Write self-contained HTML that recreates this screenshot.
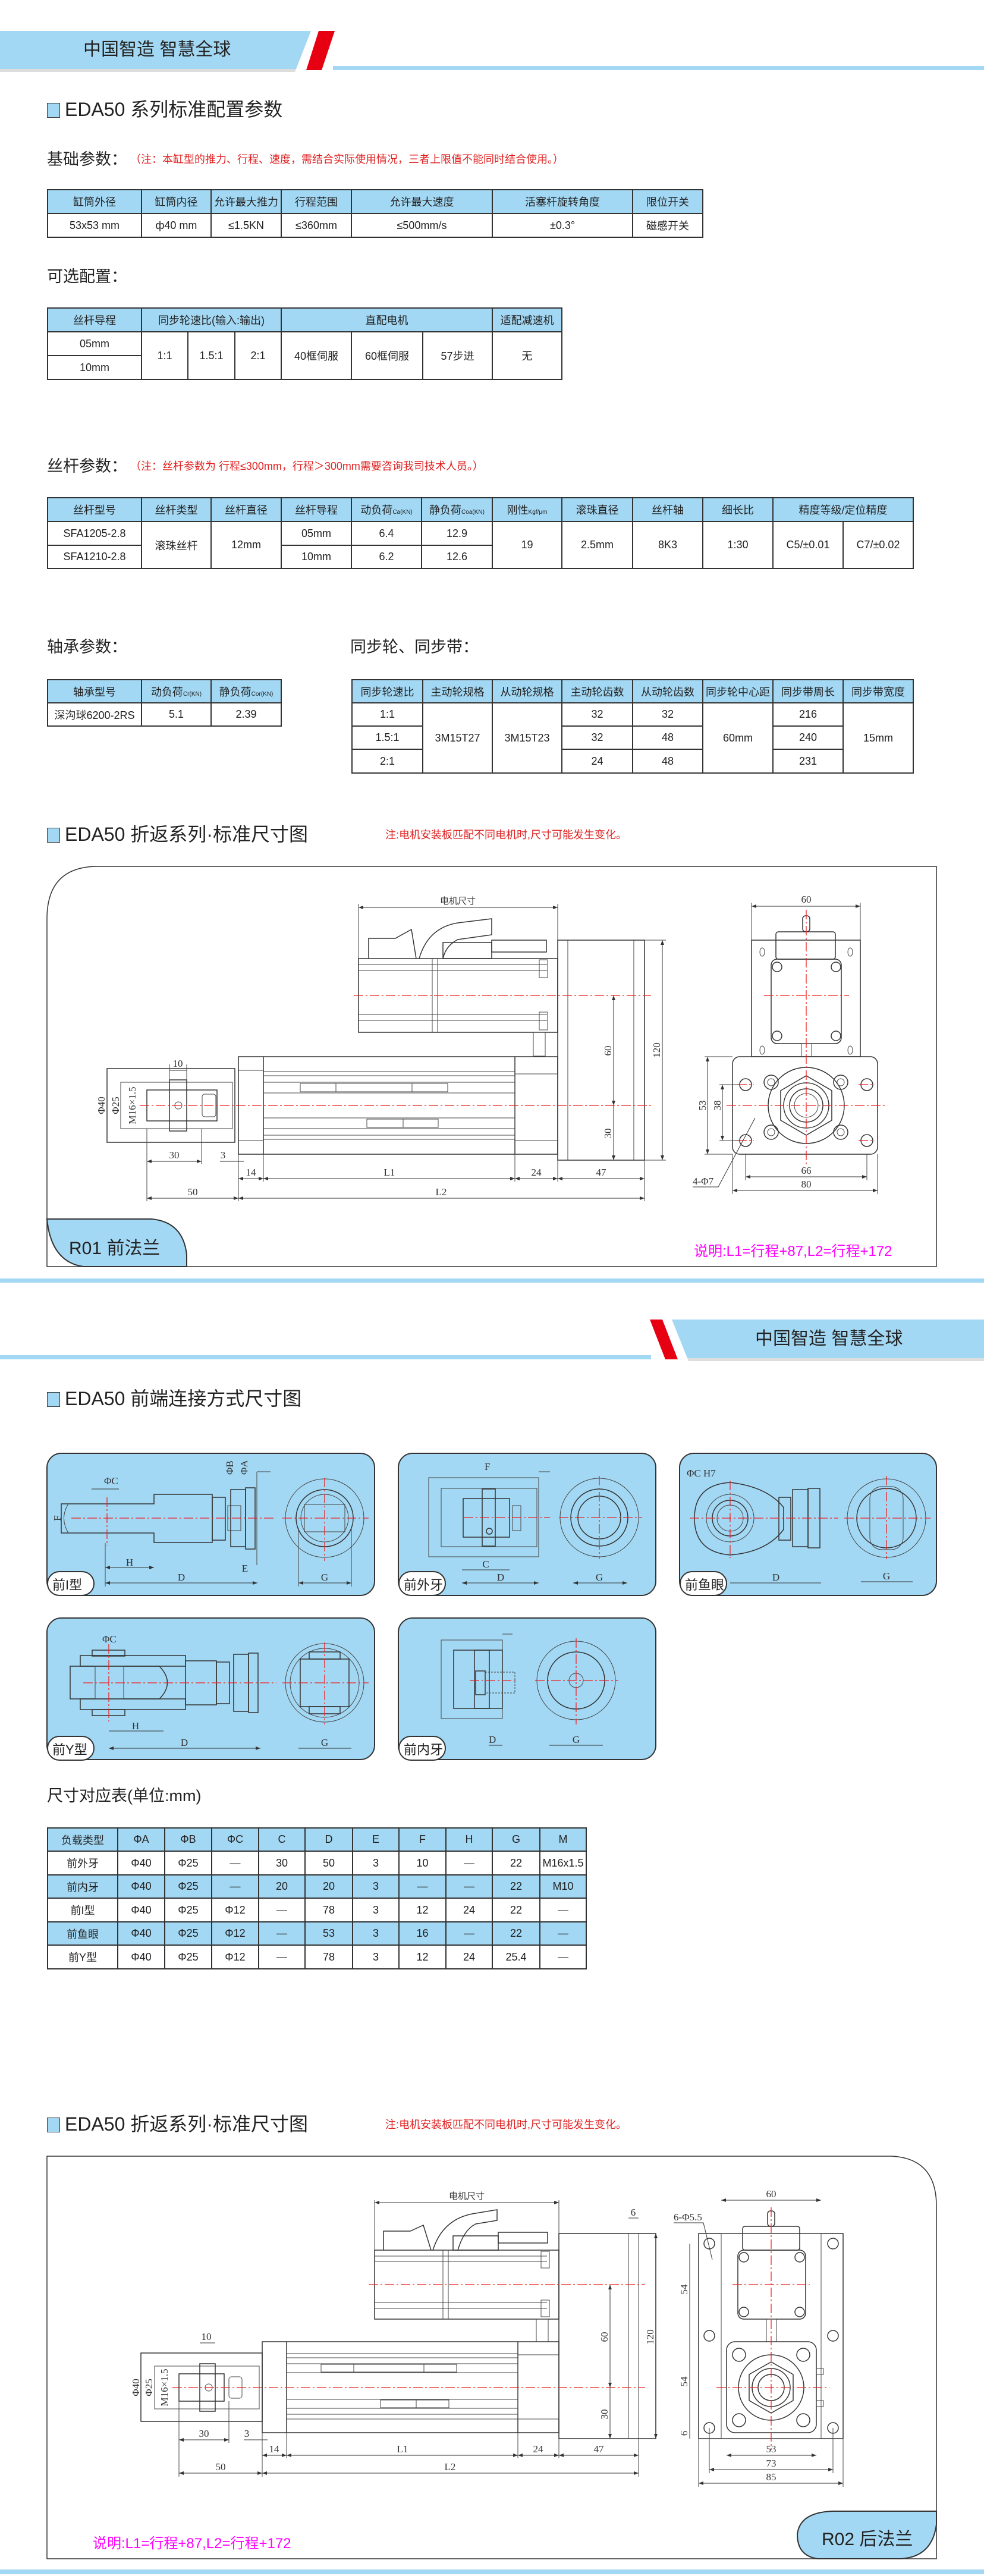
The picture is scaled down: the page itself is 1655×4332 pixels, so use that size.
<!DOCTYPE html>
<html><head><meta charset="utf-8">
<style>
*{margin:0;padding:0;box-sizing:border-box}
body{width:1655px;height:4332px;position:relative;background:#fff;font-family:"Liberation Sans","Noto Sans CJK SC",sans-serif;color:#222;overflow:hidden}
.abs{position:absolute}
.sec{position:absolute;font-size:32px;line-height:36px;white-space:nowrap;color:#222}
.sec i{display:inline-block;width:22px;height:25px;background:#a3d8f4;border:1.5px solid #333;vertical-align:-3px;margin-right:8px}
.h2{position:absolute;font-size:27px;line-height:32px;white-space:nowrap;color:#222}
.note{color:#e02020;font-size:18px;margin-left:14px;vertical-align:3px}
table{position:absolute;border-collapse:collapse;table-layout:fixed}
td{border:2px solid #333;text-align:center;vertical-align:middle;font-size:18px;white-space:nowrap;overflow:hidden;padding:0;color:#222}
tr.hd td{background:#a3d8f4}
td sub{font-size:10px;vertical-align:baseline}
.tab{position:absolute;font-size:22px;white-space:nowrap}
.pink{position:absolute;color:#f0f;font-size:24px;white-space:nowrap}
</style></head><body>

<svg class="abs" style="left:0;top:0" width="1655" height="4332" viewBox="0 0 1655 4332">
<defs>
<marker id="a" markerWidth="8" markerHeight="6" refX="8" refY="3" orient="auto-start-reverse" markerUnits="userSpaceOnUse"><path d="M0,0 L8,3 L0,6 Z" fill="#333"/></marker>
<style>
.o{fill:none;stroke:#333;stroke-width:1.5}
.t{fill:none;stroke:#444;stroke-width:1}
.c{fill:none;stroke:#e22;stroke-width:1.3;stroke-dasharray:16 4 3 4}
.d{fill:none;stroke:#333;stroke-width:1}
.tx{font-family:"Liberation Serif",serif;font-size:17px;fill:#333}
.tc{font-family:"Liberation Sans","Noto Sans CJK SC",sans-serif;font-size:15px;fill:#333}
</style>
</defs>

<!-- header 1 -->
<polygon points="0,52 523,52 498,116 0,116" fill="#a3d8f4"/>
<polygon points="0,116 498,116 496,121 0,121" fill="#ddd"/>
<polygon points="536,52 563,52 541,118 515,118" fill="#e60012"/>
<rect x="560" y="111" width="1095" height="7" fill="#a3d8f4"/>
<!-- separator 1 -->
<rect x="0" y="2150" width="1655" height="7" fill="#a3d8f4"/>
<!-- header 2 -->
<polygon points="1130,2219 1655,2219 1655,2284 1156,2284" fill="#a3d8f4"/>
<polygon points="1156,2284 1655,2284 1655,2289 1158,2289" fill="#ddd"/>
<polygon points="1093,2219 1114,2219 1140,2286 1119,2286" fill="#e60012"/>
<rect x="0" y="2279" width="1095" height="7" fill="#a3d8f4"/>
<!-- separator 2 -->
<rect x="0" y="4321" width="1655" height="8" fill="#a3d8f4"/>

<!-- ===== R01 box ===== -->
<path d="M79,2130 L79,1545 Q79,1457 165,1457 L1575,1457 L1575,2130 Z" class="o" stroke-width="2"/>
<path d="M79,2050 L255,2050 Q308,2055 314,2110 L314,2130 L140,2130 Q86,2122 79,2050 Z" fill="#a3d8f4" stroke="#333" stroke-width="2"/>

<!-- motor -->
<line x1="603" y1="1526" x2="938" y2="1526" class="d" marker-start="url(#a)" marker-end="url(#a)"/>
<line x1="603" y1="1520" x2="603" y2="1612" class="t"/><line x1="938" y1="1520" x2="938" y2="1612" class="t"/>
<text x="770" y="1520" class="tc" text-anchor="middle">电机尺寸</text>
<path d="M620,1612 L620,1578 L665,1578 L692,1563 L700,1612" class="o"/>
<path d="M705,1612 Q720,1560 770,1552 L827,1545 L827,1572 L770,1580 Q750,1590 745,1612" class="o"/>
<rect x="745" y="1585" width="82" height="27" class="o"/>
<rect x="827" y="1581" width="92" height="20" class="o"/>
<rect x="603" y="1612" width="335" height="124" class="o"/>
<line x1="603" y1="1622" x2="920" y2="1622" class="t"/><line x1="603" y1="1632" x2="920" y2="1632" class="t"/>
<line x1="603" y1="1706" x2="920" y2="1706" class="t"/><line x1="603" y1="1716" x2="920" y2="1716" class="t"/>
<line x1="727" y1="1612" x2="727" y2="1736" class="t"/><line x1="736" y1="1612" x2="736" y2="1736" class="t"/>
<rect x="907" y="1614" width="14" height="30" class="t"/><rect x="907" y="1702" width="14" height="30" class="t"/>
<rect x="897" y="1736" width="20" height="40" class="t"/>
<!-- plate -->
<rect x="938" y="1581" width="146" height="370" class="o"/>
<line x1="955" y1="1581" x2="955" y2="1951" class="t"/><line x1="1066" y1="1581" x2="1066" y2="1951" class="t"/>
<!-- body -->
<rect x="401" y="1777" width="537" height="164" class="o"/>
<line x1="443" y1="1777" x2="443" y2="1941" class="o"/>
<line x1="866" y1="1777" x2="866" y2="1941" class="o"/>
<line x1="401" y1="1800" x2="443" y2="1800" class="t"/><line x1="401" y1="1918" x2="443" y2="1918" class="t"/>
<line x1="443" y1="1802" x2="866" y2="1802" class="t"/><line x1="443" y1="1809" x2="866" y2="1809" class="t"/>
<line x1="443" y1="1820" x2="866" y2="1820" class="t"/><line x1="443" y1="1838" x2="866" y2="1838" class="t"/>
<line x1="443" y1="1880" x2="866" y2="1880" class="t"/><line x1="443" y1="1898" x2="866" y2="1898" class="t"/>
<line x1="443" y1="1909" x2="866" y2="1909" class="t"/><line x1="443" y1="1916" x2="866" y2="1916" class="t"/>
<rect x="505" y="1822" width="248" height="14" class="t"/><rect x="505" y="1822" width="60" height="14" class="t"/><rect x="693" y="1822" width="60" height="14" class="t"/>
<rect x="617" y="1882" width="120" height="14" class="t"/><rect x="678" y="1882" width="59" height="14" class="t"/>
<rect x="866" y="1806" width="72" height="112" class="t"/>
<!-- front -->
<rect x="180" y="1797" width="215" height="124" class="o"/>
<rect x="203" y="1820" width="188" height="78" class="t"/>
<rect x="247" y="1833" width="118" height="52" class="o"/>
<rect x="285" y="1816" width="29" height="86" class="o"/>
<rect x="340" y="1840" width="23" height="38" class="t" rx="4"/>
<circle cx="300" cy="1859" r="6" class="t"/>
<line x1="235" y1="1859" x2="1095" y2="1859" class="c"/>
<line x1="595" y1="1674" x2="1095" y2="1674" class="c"/>
<!-- dims R01 -->
<line x1="285" y1="1800" x2="314" y2="1800" class="d"/><line x1="285" y1="1790" x2="285" y2="1816" class="t"/><line x1="314" y1="1790" x2="314" y2="1816" class="t"/>
<text x="299" y="1794" class="tx" text-anchor="middle">10</text>
<line x1="1032" y1="1674" x2="1032" y2="1859" class="d" marker-start="url(#a)" marker-end="url(#a)"/>
<line x1="1032" y1="1859" x2="1032" y2="1951" class="d" marker-end="url(#a)"/>
<line x1="1114" y1="1581" x2="1114" y2="1951" class="d" marker-start="url(#a)" marker-end="url(#a)"/>
<line x1="1084" y1="1581" x2="1120" y2="1581" class="t"/><line x1="1084" y1="1951" x2="1120" y2="1951" class="t"/>
<text transform="translate(1028,1767) rotate(-90)" class="tx" text-anchor="middle">60</text>
<text transform="translate(1028,1906) rotate(-90)" class="tx" text-anchor="middle">30</text>
<text transform="translate(1110,1766) rotate(-90)" class="tx" text-anchor="middle">120</text>
<text transform="translate(176,1859) rotate(-90)" class="tx" text-anchor="middle">Φ40</text>
<text transform="translate(200,1859) rotate(-90)" class="tx" text-anchor="middle">Φ25</text>
<text transform="translate(228,1859) rotate(-90)" class="tx" text-anchor="middle">M16×1.5</text>
<line x1="247" y1="1898" x2="247" y2="2020" class="t"/><line x1="339" y1="1898" x2="339" y2="1958" class="t"/>
<line x1="247" y1="1953" x2="339" y2="1953" class="d" marker-start="url(#a)" marker-end="url(#a)"/><text x="293" y="1948" class="tx" text-anchor="middle">30</text>
<line x1="370" y1="1953" x2="410" y2="1953" class="d"/><text x="375" y="1948" class="tx" text-anchor="middle">3</text>
<line x1="401" y1="1941" x2="401" y2="2020" class="t"/><line x1="443" y1="1941" x2="443" y2="1987" class="t"/>
<line x1="866" y1="1941" x2="866" y2="1987" class="t"/><line x1="938" y1="1951" x2="938" y2="1987" class="t"/><line x1="1084" y1="1951" x2="1084" y2="2020" class="t"/>
<line x1="401" y1="1982" x2="443" y2="1982" class="d" marker-start="url(#a)" marker-end="url(#a)"/><text x="422" y="1977" class="tx" text-anchor="middle">14</text>
<line x1="443" y1="1982" x2="866" y2="1982" class="d" marker-start="url(#a)" marker-end="url(#a)"/><text x="655" y="1977" class="tx" text-anchor="middle">L1</text>
<line x1="866" y1="1982" x2="938" y2="1982" class="d" marker-start="url(#a)" marker-end="url(#a)"/><text x="902" y="1977" class="tx" text-anchor="middle">24</text>
<line x1="938" y1="1982" x2="1084" y2="1982" class="d" marker-start="url(#a)" marker-end="url(#a)"/><text x="1011" y="1977" class="tx" text-anchor="middle">47</text>
<line x1="247" y1="2015" x2="401" y2="2015" class="d" marker-start="url(#a)" marker-end="url(#a)"/><text x="324" y="2010" class="tx" text-anchor="middle">50</text>
<line x1="401" y1="2015" x2="1084" y2="2015" class="d" marker-start="url(#a)" marker-end="url(#a)"/><text x="742" y="2010" class="tx" text-anchor="middle">L2</text>
<!-- right view R01 -->
<rect x="1264" y="1581" width="183" height="196" class="o"/>
<rect x="1297" y="1613" width="118" height="142" rx="10" class="o"/>
<rect x="1305" y="1567" width="100" height="46" rx="4" class="o"/>
<rect x="1350" y="1540" width="12" height="27" rx="5" class="o"/>
<rect x="1348" y="1755" width="17" height="22" class="t"/>
<circle cx="1307" cy="1626" r="8" class="o"/><circle cx="1406" cy="1626" r="8" class="o"/>
<circle cx="1307" cy="1742" r="8" class="o"/><circle cx="1406" cy="1742" r="8" class="o"/>
<ellipse cx="1282" cy="1601" rx="4" ry="7" class="t"/><ellipse cx="1430" cy="1601" rx="4" ry="7" class="t"/>
<ellipse cx="1282" cy="1766" rx="4" ry="7" class="t"/><ellipse cx="1430" cy="1766" rx="4" ry="7" class="t"/>
<rect x="1232" y="1777" width="244" height="164" rx="12" class="o"/>
<circle cx="1356" cy="1859" r="64" class="o"/>
<polygon points="1356,1809 1399,1834 1399,1884 1356,1909 1313,1884 1313,1834" class="o"/>
<circle cx="1356" cy="1859" r="38" class="o"/><circle cx="1356" cy="1859" r="28" class="o" stroke-width="2.5"/><circle cx="1356" cy="1859" r="20" class="t"/>
<circle cx="1297" cy="1820" r="12" class="o"/><circle cx="1414" cy="1820" r="12" class="o"/>
<circle cx="1297" cy="1904" r="12" class="o"/><circle cx="1414" cy="1904" r="12" class="o"/>
<circle cx="1297" cy="1820" r="6" class="t"/><circle cx="1414" cy="1820" r="6" class="t"/>
<circle cx="1297" cy="1904" r="6" class="t"/><circle cx="1414" cy="1904" r="6" class="t"/>
<circle cx="1254" cy="1824" r="10" class="o"/><circle cx="1458" cy="1824" r="10" class="o"/>
<circle cx="1254" cy="1918" r="10" class="o"/><circle cx="1458" cy="1918" r="10" class="o"/>
<line x1="1222" y1="1859" x2="1490" y2="1859" class="c"/>
<line x1="1285" y1="1674" x2="1428" y2="1674" class="c"/>
<line x1="1356" y1="1530" x2="1356" y2="1960" class="c"/>
<line x1="1240" y1="1824" x2="1268" y2="1824" class="c"/><line x1="1444" y1="1824" x2="1472" y2="1824" class="c"/>
<line x1="1240" y1="1918" x2="1268" y2="1918" class="c"/><line x1="1444" y1="1918" x2="1472" y2="1918" class="c"/>
<line x1="1264" y1="1524" x2="1447" y2="1524" class="d" marker-start="url(#a)" marker-end="url(#a)"/><text x="1356" y="1518" class="tx" text-anchor="middle">60</text>
<line x1="1264" y1="1518" x2="1264" y2="1581" class="t"/><line x1="1447" y1="1518" x2="1447" y2="1581" class="t"/>
<line x1="1254" y1="1941" x2="1254" y2="1985" class="t"/><line x1="1458" y1="1941" x2="1458" y2="1985" class="t"/>
<line x1="1254" y1="1979" x2="1458" y2="1979" class="d" marker-start="url(#a)" marker-end="url(#a)"/><text x="1356" y="1974" class="tx" text-anchor="middle">66</text>
<line x1="1232" y1="1941" x2="1232" y2="2008" class="t"/><line x1="1476" y1="1941" x2="1476" y2="2008" class="t"/>
<line x1="1232" y1="2002" x2="1476" y2="2002" class="d" marker-start="url(#a)" marker-end="url(#a)"/><text x="1356" y="1997" class="tx" text-anchor="middle">80</text>
<line x1="1190" y1="1777" x2="1190" y2="1941" class="d" marker-start="url(#a)" marker-end="url(#a)"/>
<line x1="1185" y1="1777" x2="1232" y2="1777" class="t"/><line x1="1185" y1="1941" x2="1232" y2="1941" class="t"/>
<line x1="1215" y1="1824" x2="1215" y2="1918" class="d" marker-start="url(#a)" marker-end="url(#a)"/>
<line x1="1210" y1="1824" x2="1244" y2="1824" class="t"/><line x1="1210" y1="1918" x2="1244" y2="1918" class="t"/>
<text transform="translate(1187,1859) rotate(-90)" class="tx" text-anchor="middle">53</text>
<text transform="translate(1212,1859) rotate(-90)" class="tx" text-anchor="middle">38</text>
<path d="M1165,1996 L1208,1996 L1270,1880" class="d"/><text x="1165" y="1992" class="tx">4-Φ7</text>

<!-- ===== front connection boxes ===== -->
<rect x="79" y="2444" width="551" height="239" rx="24" fill="#a3d8f4" stroke="#333" stroke-width="2"/>
<rect x="670" y="2444" width="433" height="239" rx="24" fill="#a3d8f4" stroke="#333" stroke-width="2"/>
<rect x="1143" y="2444" width="432" height="239" rx="24" fill="#a3d8f4" stroke="#333" stroke-width="2"/>
<rect x="79" y="2721" width="551" height="238" rx="24" fill="#a3d8f4" stroke="#333" stroke-width="2"/>
<rect x="670" y="2721" width="433" height="238" rx="24" fill="#a3d8f4" stroke="#333" stroke-width="2"/>
<!-- tabs -->
<rect x="80" y="2643" width="78" height="40" rx="20" fill="#fff" stroke="#333" stroke-width="2"/>
<rect x="671" y="2643" width="78" height="40" rx="20" fill="#fff" stroke="#333" stroke-width="2"/>
<rect x="1144" y="2643" width="78" height="40" rx="20" fill="#fff" stroke="#333" stroke-width="2"/>
<rect x="80" y="2920" width="78" height="40" rx="20" fill="#fff" stroke="#333" stroke-width="2"/>
<rect x="671" y="2920" width="78" height="40" rx="20" fill="#fff" stroke="#333" stroke-width="2"/>
<!-- box1 前I型 -->
<path d="M103,2529 L259,2529 L259,2513 L357,2513 L357,2594 L259,2594 L259,2578 L103,2578 Z" class="o"/>
<path d="M115,2529 Q100,2553 115,2578" class="t"/>
<rect x="357" y="2518" width="22" height="72" class="o"/>
<rect x="383" y="2532" width="22" height="42" class="t"/>
<rect x="388" y="2505" width="25" height="96" class="o"/><rect x="413" y="2502" width="16" height="103" class="o"/>
<path d="M432,2475 L432,2632 M432,2475 L455,2475" class="t"/>
<line x1="180" y1="2518" x2="180" y2="2600" class="c"/>
<line x1="120" y1="2553" x2="460" y2="2553" class="c"/>
<circle cx="546" cy="2553" r="66" class="t"/><circle cx="546" cy="2553" r="48" class="o" stroke-width="2"/><circle cx="546" cy="2553" r="40" class="t"/>
<rect x="512" y="2530" width="68" height="46" class="t"/>
<line x1="475" y1="2553" x2="620" y2="2553" class="c"/><line x1="546" y1="2485" x2="546" y2="2625" class="c"/>
<line x1="177" y1="2595" x2="177" y2="2668" class="t"/><line x1="177" y1="2662" x2="433" y2="2662" class="d" marker-start="url(#a)" marker-end="url(#a)"/>
<line x1="177" y1="2636" x2="259" y2="2636" class="d" marker-start="url(#a)" marker-end="url(#a)"/>
<line x1="502" y1="2570" x2="502" y2="2668" class="t"/><line x1="591" y1="2570" x2="591" y2="2668" class="t"/>
<line x1="502" y1="2662" x2="591" y2="2662" class="d" marker-start="url(#a)" marker-end="url(#a)"/>
<text x="305" y="2658" class="tx" text-anchor="middle" font-size="13">D</text><text x="218" y="2633" class="tx" text-anchor="middle" font-size="13">H</text>
<text x="546" y="2658" class="tx" text-anchor="middle" font-size="13">G</text><text x="412" y="2643" class="tx" text-anchor="middle" font-size="13">E</text>
<text x="175" y="2496" class="tx" font-size="13">ΦC</text><line x1="154" y1="2504" x2="200" y2="2504" class="d"/>
<text transform="translate(392,2480) rotate(-90)" class="tx" font-size="13">ΦB</text><text transform="translate(416,2480) rotate(-90)" class="tx" font-size="13">ΦA</text>
<text transform="translate(102,2553) rotate(-90)" class="tx" font-size="13" text-anchor="middle">F</text>
<!-- box2 前外牙 -->
<rect x="721" y="2485" width="185" height="133" class="t"/><path d="M906,2475 L925,2475" class="t"/>
<rect x="742" y="2503" width="161" height="98" class="t"/>
<rect x="779" y="2520" width="78" height="65" class="o"/>
<rect x="811" y="2504" width="22" height="96" class="o"/>
<rect x="862" y="2532" width="14" height="42" class="t"/>
<circle cx="823" cy="2575" r="5" class="o"/>
<line x1="780" y1="2552" x2="925" y2="2552" class="c"/>
<circle cx="1008" cy="2552" r="66" class="t"/><circle cx="1008" cy="2552" r="48" class="o" stroke-width="2"/><circle cx="1008" cy="2552" r="36" class="o"/>
<line x1="940" y1="2552" x2="1080" y2="2552" class="c"/><line x1="1008" y1="2482" x2="1008" y2="2622" class="c"/>
<line x1="777" y1="2662" x2="906" y2="2662" class="d" marker-start="url(#a)" marker-end="url(#a)"/><text x="842" y="2658" class="tx" font-size="13" text-anchor="middle">D</text>
<line x1="777" y1="2640" x2="857" y2="2640" class="d"/><text x="817" y="2636" class="tx" font-size="13" text-anchor="middle">C</text>
<line x1="964" y1="2662" x2="1055" y2="2662" class="d" marker-start="url(#a)" marker-end="url(#a)"/><text x="1008" y="2658" class="tx" font-size="13" text-anchor="middle">G</text>
<text x="815" y="2472" class="tx" font-size="13">F</text>
<!-- box3 前鱼眼 -->
<path d="M1228,2493 Q1290,2500 1318,2535 L1318,2572 Q1290,2610 1228,2615 Q1168,2610 1168,2553 Q1168,2497 1228,2493 Z" class="o"/>
<circle cx="1228" cy="2553" r="40" class="t"/><circle cx="1228" cy="2553" r="30" class="o"/><circle cx="1228" cy="2553" r="22" class="t"/>
<rect x="1310" y="2518" width="20" height="72" class="o"/>
<rect x="1333" y="2505" width="26" height="96" class="o"/><rect x="1359" y="2503" width="20" height="100" class="o"/>
<line x1="1160" y1="2553" x2="1410" y2="2553" class="c"/><line x1="1228" y1="2490" x2="1228" y2="2620" class="c"/>
<circle cx="1491" cy="2553" r="66" class="t"/><circle cx="1491" cy="2553" r="50" class="o"/>
<rect x="1463" y="2500" width="56" height="106" rx="20" class="t"/>
<line x1="1420" y1="2553" x2="1565" y2="2553" class="c"/><line x1="1491" y1="2482" x2="1491" y2="2622" class="c"/>
<line x1="1228" y1="2662" x2="1381" y2="2662" class="d"/><text x="1305" y="2658" class="tx" font-size="13" text-anchor="middle">D</text>
<line x1="1448" y1="2660" x2="1535" y2="2660" class="d"/><text x="1491" y="2656" class="tx" font-size="13" text-anchor="middle">G</text>
<text x="1155" y="2483" class="tx" font-size="13">ΦC H7</text>
<!-- box4 前Y型 -->
<rect x="135" y="2784" width="177" height="18" class="o"/><rect x="135" y="2857" width="177" height="18" class="o"/>
<path d="M118,2802 L268,2802 Q295,2830 268,2857 L118,2857 Z" class="o"/>
<rect x="155" y="2775" width="55" height="10" class="o"/><rect x="155" y="2875" width="55" height="10" class="o"/>
<rect x="160" y="2802" width="48" height="55" class="t"/>
<rect x="312" y="2793" width="52" height="74" class="o"/>
<rect x="364" y="2795" width="22" height="70" class="o"/>
<rect x="393" y="2782" width="25" height="96" class="o"/><rect x="418" y="2780" width="16" height="100" class="o"/>
<line x1="140" y1="2830" x2="465" y2="2830" class="c"/><line x1="183" y1="2765" x2="183" y2="2895" class="c"/>
<circle cx="546" cy="2830" r="66" class="t"/><circle cx="546" cy="2830" r="58" class="t"/>
<rect x="505" y="2790" width="82" height="80" class="o"/><rect x="520" y="2778" width="52" height="12" class="o"/><rect x="520" y="2870" width="52" height="12" class="o"/>
<line x1="475" y1="2830" x2="620" y2="2830" class="c"/><line x1="546" y1="2762" x2="546" y2="2900" class="c"/>
<line x1="183" y1="2940" x2="438" y2="2940" class="d" marker-start="url(#a)" marker-end="url(#a)"/><text x="310" y="2936" class="tx" font-size="13" text-anchor="middle">D</text>
<line x1="183" y1="2911" x2="275" y2="2911" class="d"/><text x="228" y="2908" class="tx" font-size="13" text-anchor="middle">H</text>
<line x1="502" y1="2940" x2="591" y2="2940" class="d"/><text x="546" y="2936" class="tx" font-size="13" text-anchor="middle">G</text>
<text x="172" y="2762" class="tx" font-size="13">ΦC</text>
<!-- box5 前内牙 -->
<rect x="742" y="2758" width="103" height="132" class="t"/><path d="M845,2748 L862,2748" class="t"/>
<rect x="763" y="2775" width="82" height="98" class="o"/>
<rect x="798" y="2775" width="25" height="98" class="o"/>
<rect x="800" y="2810" width="16" height="40" class="o"/>
<rect x="816" y="2812" width="50" height="35" class="t" stroke-dasharray="3 2"/>
<line x1="790" y1="2826" x2="870" y2="2826" class="c"/>
<circle cx="969" cy="2826" r="66" class="t"/><circle cx="969" cy="2826" r="48" class="o"/><circle cx="969" cy="2826" r="12" class="t"/>
<line x1="900" y1="2826" x2="1040" y2="2826" class="c"/><line x1="969" y1="2755" x2="969" y2="2900" class="c"/>
<line x1="822" y1="2935" x2="845" y2="2935" class="d"/><text x="822" y="2931" class="tx" font-size="13">D</text>
<line x1="924" y1="2935" x2="1014" y2="2935" class="d"/><text x="969" y="2931" class="tx" font-size="13" text-anchor="middle">G</text>

<!-- ===== R02 box ===== -->
<path d="M79,3626 L1500,3626 Q1575,3630 1575,3710 L1575,4303 L79,4303 Z" class="o" stroke-width="2"/>
<path d="M1400,4223 L1575,4223 L1575,4245 Q1568,4300 1515,4303 L1375,4303 Q1341,4298 1341,4262 Q1345,4225 1400,4223 Z" fill="#a3d8f4" stroke="#333" stroke-width="2"/>
<!-- motor -->
<line x1="630" y1="3704" x2="940" y2="3704" class="d" marker-start="url(#a)" marker-end="url(#a)"/>
<line x1="630" y1="3700" x2="630" y2="3784" class="t"/><line x1="940" y1="3700" x2="940" y2="3784" class="t"/>
<text x="785" y="3698" class="tc" text-anchor="middle">电机尺寸</text>
<path d="M645,3784 L645,3752 L690,3752 L712,3742 L725,3784" class="o"/>
<path d="M728,3784 Q745,3730 800,3722 L836,3716 L836,3734 L800,3740 Q780,3750 770,3784" class="o"/>
<rect x="762" y="3760" width="76" height="24" class="o"/><rect x="838" y="3754" width="83" height="18" class="o"/>
<rect x="630" y="3784" width="310" height="116" class="o"/>
<line x1="630" y1="3794" x2="920" y2="3794" class="t"/><line x1="630" y1="3803" x2="920" y2="3803" class="t"/>
<line x1="630" y1="3872" x2="920" y2="3872" class="t"/><line x1="630" y1="3882" x2="920" y2="3882" class="t"/>
<line x1="745" y1="3784" x2="745" y2="3900" class="t"/><line x1="754" y1="3784" x2="754" y2="3900" class="t"/>
<rect x="910" y="3786" width="14" height="28" class="t"/><rect x="910" y="3868" width="14" height="28" class="t"/>
<rect x="902" y="3900" width="20" height="38" class="t"/>
<rect x="940" y="3756" width="163" height="345" class="o"/>
<line x1="1057" y1="3756" x2="1057" y2="4101" class="t"/><line x1="1074" y1="3756" x2="1074" y2="4101" class="t"/>
<rect x="441" y="3938" width="499" height="153" class="o"/>
<line x1="482" y1="3938" x2="482" y2="4091" class="o"/><line x1="871" y1="3938" x2="871" y2="4091" class="o"/>
<line x1="482" y1="3958" x2="871" y2="3958" class="t"/><line x1="482" y1="3965" x2="871" y2="3965" class="t"/>
<line x1="482" y1="3975" x2="871" y2="3975" class="t"/><line x1="482" y1="3990" x2="871" y2="3990" class="t"/>
<line x1="482" y1="4035" x2="871" y2="4035" class="t"/><line x1="482" y1="4050" x2="871" y2="4050" class="t"/>
<line x1="482" y1="4060" x2="871" y2="4060" class="t"/><line x1="482" y1="4068" x2="871" y2="4068" class="t"/>
<rect x="540" y="3976" width="228" height="13" class="t"/><rect x="540" y="3976" width="55" height="13" class="t"/><rect x="713" y="3976" width="55" height="13" class="t"/>
<rect x="640" y="4036" width="115" height="13" class="t"/><rect x="700" y="4036" width="55" height="13" class="t"/>
<rect x="871" y="3960" width="69" height="108" class="t"/>
<rect x="237" y="3957" width="204" height="115" class="o"/>
<rect x="260" y="3979" width="176" height="72" class="t"/>
<rect x="301" y="3992" width="76" height="46" class="o"/>
<rect x="336" y="3975" width="26" height="80" class="o"/>
<rect x="385" y="3997" width="22" height="36" rx="4" class="t"/>
<circle cx="351" cy="4015" r="6" class="t"/>
<line x1="290" y1="4015" x2="1085" y2="4015" class="c"/>
<line x1="620" y1="3842" x2="1085" y2="3842" class="c"/>
<line x1="336" y1="3940" x2="362" y2="3940" class="d"/><text x="347" y="3935" class="tx" text-anchor="middle">10</text>
<line x1="1026" y1="3842" x2="1026" y2="4015" class="d" marker-start="url(#a)" marker-end="url(#a)"/>
<line x1="1026" y1="4015" x2="1026" y2="4101" class="d" marker-end="url(#a)"/>
<line x1="1103" y1="3756" x2="1103" y2="4101" class="d" marker-start="url(#a)" marker-end="url(#a)"/>
<text transform="translate(1022,3930) rotate(-90)" class="tx" text-anchor="middle">60</text>
<text transform="translate(1022,4060) rotate(-90)" class="tx" text-anchor="middle">30</text>
<text transform="translate(1099,3930) rotate(-90)" class="tx" text-anchor="middle">120</text>
<line x1="1057" y1="3730" x2="1074" y2="3730" class="d"/><text x="1065" y="3726" class="tx" text-anchor="middle">6</text>
<text transform="translate(234,4015) rotate(-90)" class="tx" text-anchor="middle">Φ40</text>
<text transform="translate(256,4015) rotate(-90)" class="tx" text-anchor="middle">Φ25</text>
<text transform="translate(282,4015) rotate(-90)" class="tx" text-anchor="middle">M16×1.5</text>
<line x1="301" y1="4038" x2="301" y2="4165" class="t"/><line x1="385" y1="4038" x2="385" y2="4108" class="t"/>
<line x1="301" y1="4103" x2="385" y2="4103" class="d" marker-start="url(#a)" marker-end="url(#a)"/><text x="343" y="4098" class="tx" text-anchor="middle">30</text>
<line x1="410" y1="4103" x2="450" y2="4103" class="d"/><text x="415" y="4098" class="tx" text-anchor="middle">3</text>
<line x1="441" y1="4091" x2="441" y2="4165" class="t"/><line x1="482" y1="4091" x2="482" y2="4134" class="t"/>
<line x1="871" y1="4091" x2="871" y2="4134" class="t"/><line x1="940" y1="4101" x2="940" y2="4134" class="t"/><line x1="1074" y1="4101" x2="1074" y2="4165" class="t"/>
<line x1="441" y1="4129" x2="482" y2="4129" class="d" marker-start="url(#a)" marker-end="url(#a)"/><text x="461" y="4124" class="tx" text-anchor="middle">14</text>
<line x1="482" y1="4129" x2="871" y2="4129" class="d" marker-start="url(#a)" marker-end="url(#a)"/><text x="677" y="4124" class="tx" text-anchor="middle">L1</text>
<line x1="871" y1="4129" x2="940" y2="4129" class="d" marker-start="url(#a)" marker-end="url(#a)"/><text x="905" y="4124" class="tx" text-anchor="middle">24</text>
<line x1="940" y1="4129" x2="1074" y2="4129" class="d" marker-start="url(#a)" marker-end="url(#a)"/><text x="1007" y="4124" class="tx" text-anchor="middle">47</text>
<line x1="301" y1="4159" x2="441" y2="4159" class="d" marker-start="url(#a)" marker-end="url(#a)"/><text x="371" y="4154" class="tx" text-anchor="middle">50</text>
<line x1="441" y1="4159" x2="1074" y2="4159" class="d" marker-start="url(#a)" marker-end="url(#a)"/><text x="757" y="4154" class="tx" text-anchor="middle">L2</text>
<!-- right view R02 -->
<rect x="1175" y="3756" width="243" height="345" class="o"/>
<rect x="1213" y="3756" width="168" height="345" class="t"/>
<rect x="1241" y="3784" width="114" height="116" rx="10" class="o"/>
<rect x="1249" y="3744" width="96" height="40" rx="4" class="o"/>
<rect x="1291" y="3718" width="12" height="26" rx="5" class="o"/>
<rect x="1289" y="3900" width="17" height="38" class="t"/>
<circle cx="1251" cy="3796" r="8" class="o"/><circle cx="1345" cy="3796" r="8" class="o"/>
<circle cx="1251" cy="3888" r="8" class="o"/><circle cx="1345" cy="3888" r="8" class="o"/>
<rect x="1222" y="3938" width="151" height="153" rx="14" class="o"/>
<circle cx="1297" cy="4015" r="55" class="o"/>
<polygon points="1297,3972 1334,3993 1334,4037 1297,4058 1260,4037 1260,3993" class="o"/>
<circle cx="1297" cy="4015" r="32" class="o"/><circle cx="1297" cy="4015" r="22" class="o" stroke-width="2.5"/>
<circle cx="1243" cy="3960" r="11" class="o"/><circle cx="1351" cy="3960" r="11" class="o"/>
<circle cx="1243" cy="4070" r="11" class="o"/><circle cx="1351" cy="4070" r="11" class="o"/>
<circle cx="1193" cy="3773" r="9" class="o"/><circle cx="1401" cy="3773" r="9" class="o"/>
<circle cx="1193" cy="3928" r="9" class="o"/><circle cx="1401" cy="3928" r="9" class="o"/>
<circle cx="1193" cy="4083" r="9" class="o"/><circle cx="1401" cy="4083" r="9" class="o"/>
<rect x="1373" y="3983" width="12" height="10" class="t"/><rect x="1373" y="4037" width="12" height="10" class="t"/>
<line x1="1205" y1="4015" x2="1395" y2="4015" class="c"/>
<line x1="1232" y1="3842" x2="1362" y2="3842" class="c"/>
<line x1="1297" y1="3712" x2="1297" y2="4120" class="c"/>
<line x1="1213" y1="3700" x2="1381" y2="3700" class="d" marker-start="url(#a)" marker-end="url(#a)"/><text x="1297" y="3695" class="tx" text-anchor="middle">60</text>
<line x1="1222" y1="4129" x2="1373" y2="4129" class="d" marker-start="url(#a)" marker-end="url(#a)"/><text x="1297" y="4124" class="tx" text-anchor="middle">53</text>
<line x1="1193" y1="4153" x2="1401" y2="4153" class="d" marker-start="url(#a)" marker-end="url(#a)"/><text x="1297" y="4148" class="tx" text-anchor="middle">73</text>
<line x1="1175" y1="4176" x2="1418" y2="4176" class="d" marker-start="url(#a)" marker-end="url(#a)"/><text x="1297" y="4171" class="tx" text-anchor="middle">85</text>
<line x1="1175" y1="4101" x2="1175" y2="4182" class="t"/><line x1="1418" y1="4101" x2="1418" y2="4182" class="t"/>
<line x1="1193" y1="4083" x2="1193" y2="4159" class="t"/><line x1="1401" y1="4083" x2="1401" y2="4159" class="t"/>
<line x1="1160" y1="3773" x2="1160" y2="4101" class="d"/>
<text transform="translate(1156,3850) rotate(-90)" class="tx" text-anchor="middle">54</text>
<text transform="translate(1156,4005) rotate(-90)" class="tx" text-anchor="middle">54</text>
<text transform="translate(1156,4092) rotate(-90)" class="tx" text-anchor="middle">6</text>
<path d="M1133,3738 L1183,3738 L1198,3800" class="d"/><text x="1133" y="3734" class="tx">6-Φ5.5</text>
</svg>

<!-- header texts -->
<div class="abs" style="left:140px;top:64px;font-size:30px;line-height:40px;white-space:nowrap">中国智造 智慧全球</div>
<div class="abs" style="left:1270px;top:2232px;font-size:30px;line-height:40px;white-space:nowrap">中国智造 智慧全球</div>

<div class="sec" style="left:79px;top:166px"><i></i>EDA50 系列标准配置参数</div>
<div class="h2" style="left:79px;top:252px">基础参数：<span class="note">（注：本缸型的推力、行程、速度，需结合实际使用情况，三者上限值不能同时结合使用。）</span></div>

<table style="left:79px;top:318px;width:1102px">
<colgroup><col style="width:158px"><col style="width:117px"><col style="width:118px"><col style="width:118px"><col style="width:237px"><col style="width:236px"><col style="width:118px"></colgroup>
<tr class="hd" style="height:40px"><td>缸筒外径</td><td>缸筒内径</td><td>允许最大推力</td><td>行程范围</td><td>允许最大速度</td><td>活塞杆旋转角度</td><td>限位开关</td></tr>
<tr style="height:40px"><td>53x53 mm</td><td>ф40 mm</td><td>≤1.5KN</td><td>≤360mm</td><td>≤500mm/s</td><td>±0.3°</td><td>磁感开关</td></tr>
</table>

<div class="h2" style="left:79px;top:449px">可选配置：</div>
<table style="left:79px;top:517px;width:865px">
<colgroup><col style="width:158px"><col style="width:78px"><col style="width:79px"><col style="width:78px"><col style="width:118px"><col style="width:120px"><col style="width:117px"><col style="width:117px"></colgroup>
<tr class="hd" style="height:40px"><td>丝杆导程</td><td colspan="3">同步轮速比(输入:输出)</td><td colspan="3">直配电机</td><td>适配减速机</td></tr>
<tr style="height:40px"><td>05mm</td><td rowspan="2">1:1</td><td rowspan="2">1.5:1</td><td rowspan="2">2:1</td><td rowspan="2">40框伺服</td><td rowspan="2">60框伺服</td><td rowspan="2">57步进</td><td rowspan="2">无</td></tr>
<tr style="height:40px"><td>10mm</td></tr>
</table>

<div class="h2" style="left:79px;top:768px">丝杆参数：<span class="note">（注：丝杆参数为 行程≤300mm，行程＞300mm需要咨询我司技术人员。）</span></div>
<table style="left:79px;top:836px;width:1456px">
<colgroup><col style="width:158px"><col style="width:117px"><col style="width:118px"><col style="width:118px"><col style="width:118px"><col style="width:119px"><col style="width:117px"><col style="width:119px"><col style="width:118px"><col style="width:118px"><col style="width:118px"><col style="width:118px"></colgroup>
<tr class="hd" style="height:40px"><td>丝杆型号</td><td>丝杆类型</td><td>丝杆直径</td><td>丝杆导程</td><td>动负荷<sub>Ca(KN)</sub></td><td>静负荷<sub>Coa(KN)</sub></td><td>刚性<sub>Kgf/μm</sub></td><td>滚珠直径</td><td>丝杆轴</td><td>细长比</td><td colspan="2">精度等级/定位精度</td></tr>
<tr style="height:40px"><td>SFA1205-2.8</td><td rowspan="2">滚珠丝杆</td><td rowspan="2">12mm</td><td>05mm</td><td>6.4</td><td>12.9</td><td rowspan="2">19</td><td rowspan="2">2.5mm</td><td rowspan="2">8K3</td><td rowspan="2">1:30</td><td rowspan="2">C5/±0.01</td><td rowspan="2">C7/±0.02</td></tr>
<tr style="height:39px"><td>SFA1210-2.8</td><td>10mm</td><td>6.2</td><td>12.6</td></tr>
</table>

<div class="h2" style="left:79px;top:1072px">轴承参数：</div>
<div class="h2" style="left:589px;top:1072px">同步轮、同步带：</div>
<table style="left:79px;top:1142px;width:393px">
<colgroup><col style="width:158px"><col style="width:117px"><col style="width:118px"></colgroup>
<tr class="hd" style="height:39px"><td>轴承型号</td><td>动负荷<sub>Cr(KN)</sub></td><td>静负荷<sub>Cor(KN)</sub></td></tr>
<tr style="height:39px"><td>深沟球6200-2RS</td><td>5.1</td><td>2.39</td></tr>
</table>
<table style="left:591px;top:1142px;width:944px">
<colgroup><col style="width:119px"><col style="width:117px"><col style="width:117px"><col style="width:119px"><col style="width:118px"><col style="width:118px"><col style="width:118px"><col style="width:118px"></colgroup>
<tr class="hd" style="height:39px"><td>同步轮速比</td><td>主动轮规格</td><td>从动轮规格</td><td>主动轮齿数</td><td>从动轮齿数</td><td>同步轮中心距</td><td>同步带周长</td><td>同步带宽度</td></tr>
<tr style="height:39px"><td>1:1</td><td rowspan="3">3M15T27</td><td rowspan="3">3M15T23</td><td>32</td><td>32</td><td rowspan="3">60mm</td><td>216</td><td rowspan="3">15mm</td></tr>
<tr style="height:39px"><td>1.5:1</td><td>32</td><td>48</td><td>240</td></tr>
<tr style="height:40px"><td>2:1</td><td>24</td><td>48</td><td>231</td></tr>
</table>

<div class="sec" style="left:79px;top:1385px"><i></i>EDA50 折返系列·标准尺寸图<span style="color:#e02020;font-size:18px;margin-left:130px;vertical-align:4px">注:电机安装板匹配不同电机时,尺寸可能发生变化。</span></div>
<div class="tab" style="left:116px;top:2074px;font-size:30px">R01 前法兰</div>
<div class="pink" style="left:1167px;top:2084px">说明:L1=行程+87,L2=行程+172</div>

<div class="sec" style="left:79px;top:2334px"><i></i>EDA50 前端连接方式尺寸图</div>
<div class="tab" style="left:88px;top:2648px">前I型</div>
<div class="tab" style="left:679px;top:2648px">前外牙</div>
<div class="tab" style="left:1152px;top:2648px">前鱼眼</div>
<div class="tab" style="left:88px;top:2925px">前Y型</div>
<div class="tab" style="left:679px;top:2925px">前内牙</div>

<div class="h2" style="left:79px;top:3004px">尺寸对应表(单位:mm)</div>
<table style="left:79px;top:3073px;width:906px">
<colgroup><col style="width:118px"><col style="width:79px"><col style="width:79px"><col style="width:79px"><col style="width:78px"><col style="width:80px"><col style="width:78px"><col style="width:79px"><col style="width:78px"><col style="width:80px"><col style="width:78px"></colgroup>
<tr class="hd" style="height:39px"><td>负载类型</td><td>ΦA</td><td>ΦB</td><td>ΦC</td><td>C</td><td>D</td><td>E</td><td>F</td><td>H</td><td>G</td><td>M</td></tr>
<tr style="height:40px"><td>前外牙</td><td>Φ40</td><td>Φ25</td><td>—</td><td>30</td><td>50</td><td>3</td><td>10</td><td>—</td><td>22</td><td>M16x1.5</td></tr>
<tr class="hd" style="height:39px"><td>前内牙</td><td>Φ40</td><td>Φ25</td><td>—</td><td>20</td><td>20</td><td>3</td><td>—</td><td>—</td><td>22</td><td>M10</td></tr>
<tr style="height:40px"><td>前I型</td><td>Φ40</td><td>Φ25</td><td>Φ12</td><td>—</td><td>78</td><td>3</td><td>12</td><td>24</td><td>22</td><td>—</td></tr>
<tr class="hd" style="height:39px"><td>前鱼眼</td><td>Φ40</td><td>Φ25</td><td>Φ12</td><td>—</td><td>53</td><td>3</td><td>16</td><td>—</td><td>22</td><td>—</td></tr>
<tr style="height:40px"><td>前Y型</td><td>Φ40</td><td>Φ25</td><td>Φ12</td><td>—</td><td>78</td><td>3</td><td>12</td><td>24</td><td>25.4</td><td>—</td></tr>
</table>

<div class="sec" style="left:79px;top:3554px"><i></i>EDA50 折返系列·标准尺寸图<span style="color:#e02020;font-size:18px;margin-left:130px;vertical-align:4px">注:电机安装板匹配不同电机时,尺寸可能发生变化。</span></div>
<div class="pink" style="left:156px;top:4257px">说明:L1=行程+87,L2=行程+172</div>
<div class="tab" style="left:1382px;top:4245px;font-size:30px">R02 后法兰</div>
</body></html>
